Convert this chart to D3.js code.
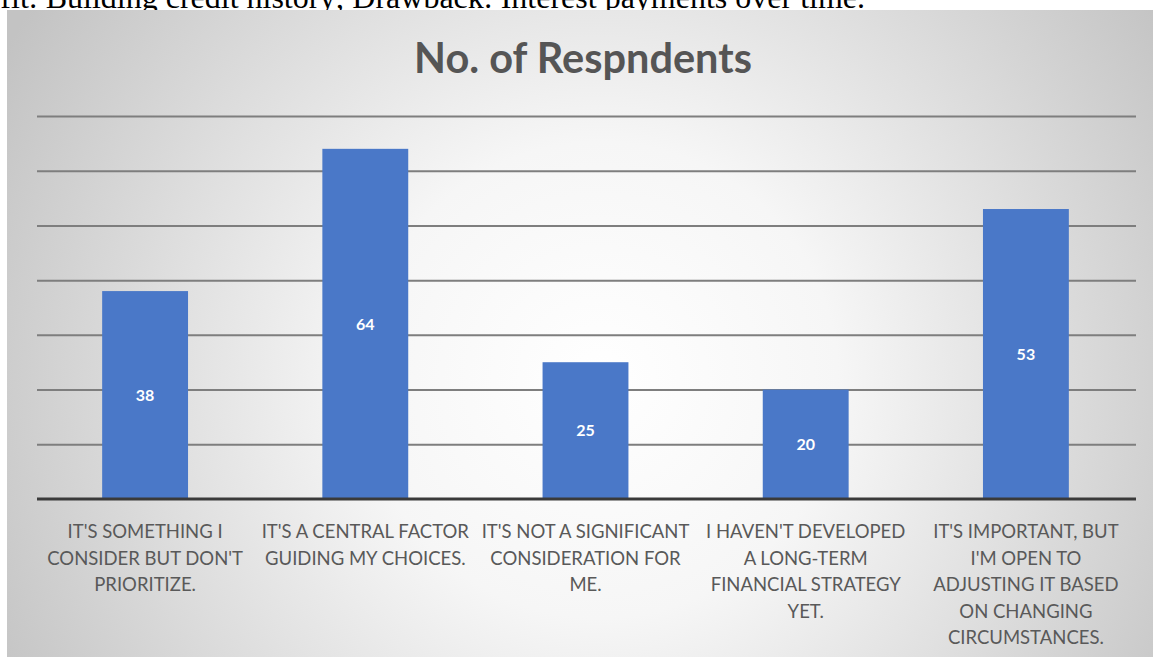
<!DOCTYPE html>
<html>
<head>
<meta charset="utf-8">
<script src="https://cdn.jsdelivr.net/npm/d3@7"></script>
<style>
  html, body { margin: 0; padding: 0; background: #fff; overflow: hidden; }
</style>
</head>
<body>
<div id="chart"></div>
<script>
// data
var categories = [
  "IT'S SOMETHING I\nCONSIDER BUT DON'T\nPRIORITIZE.",
  "IT'S A CENTRAL FACTOR\nGUIDING MY CHOICES.",
  "IT'S NOT A SIGNIFICANT\nCONSIDERATION FOR\nME.",
  "I HAVEN'T DEVELOPED\nA LONG-TERM\nFINANCIAL STRATEGY\nYET.",
  "IT'S IMPORTANT, BUT\nI'M OPEN TO\nADJUSTING IT BASED\nON CHANGING\nCIRCUMSTANCES."
];
var respondents = [38, 64, 25, 20, 53];
var gridTicks = [10, 20, 30, 40, 50, 60, 70];
var chartTitle = "No. of Respndents";
var pageText = "Benefit: Building credit history; Drawback: Interest payments over time.";

var W = 1159, H = 659;

var svg = d3.select("#chart").append("svg")
  .attr("width", W)
  .attr("height", H);

// background gradient of the chart panel
var defs = svg.append("defs");
var grad = defs.append("radialGradient")
  .attr("id", "bg")
  .attr("gradientUnits", "userSpaceOnUse")
  .attr("cx", 600).attr("cy", 380).attr("r", 680);
grad.append("stop").attr("offset", "0").attr("stop-color", "#ffffff");
grad.append("stop").attr("offset", "0.35").attr("stop-color", "#f6f6f6");
grad.append("stop").attr("offset", "1").attr("stop-color", "#c3c3c3");

// line of the document above the chart, cut off at the top
svg.append("text")
  .attr("x", 865).attr("y", 8)
  .attr("text-anchor", "end")
  .style("font-family", "'Liberation Serif', 'Times New Roman', serif")
  .style("font-size", "32px")
  .style("fill", "#000")
  .text(pageText);

svg.append("rect")
  .attr("x", 7).attr("y", 10)
  .attr("width", 1146).attr("height", 647)
  .attr("fill", "url(#bg)");

// scales
var x = d3.scaleBand()
  .domain(categories)
  .range([35, 1136])
  .paddingInner(0.61)
  .paddingOuter(0.305);

var y = d3.scaleLinear()
  .domain([0, 70])
  .range([499, 116]);

// grid lines
var grid = d3.axisLeft(y)
  .tickValues(gridTicks)
  .tickSize(-(1136 - 37))
  .tickFormat("");
var gG = svg.append("g")
  .attr("transform", "translate(37,0)")
  .call(grid);
gG.select(".domain").remove();
gG.selectAll(".tick line")
  .attr("stroke", "#7e7e7e")
  .attr("stroke-width", 2);

// bars
svg.append("g").selectAll("rect")
  .data(respondents)
  .enter().append("rect")
  .attr("x", function(d, i){ return x(categories[i]); })
  .attr("y", function(d){ return y(d); })
  .attr("width", x.bandwidth())
  .attr("height", function(d){ return y(0) - y(d); })
  .attr("fill", "#4a78c8");

// value labels in the middle of the bars
svg.append("g").selectAll("text")
  .data(respondents)
  .enter().append("text")
  .attr("x", function(d, i){ return x(categories[i]) + x.bandwidth() / 2; })
  .attr("y", function(d){ return (y(d) + y(0)) / 2; })
  .attr("dy", "0.35em")
  .attr("text-anchor", "middle")
  .style("font-family", "Lato, 'Open Sans', sans-serif")
  .style("font-weight", "bold")
  .style("font-size", "16px")
  .style("fill", "#ffffff")
  .text(function(d){ return d; });

// category axis
var xAxis = d3.axisBottom(x).tickSize(0).tickFormat("");
var xG = svg.append("g")
  .attr("transform", "translate(0," + y(0) + ")")
  .call(xAxis);
xG.select(".domain")
  .attr("d", "M37,0H1136")
  .attr("stroke", "#3a3a3a")
  .attr("stroke-width", 3);

xG.selectAll(".tick").each(function(d){
  var lines = d.split("\n");
  var t = d3.select(this).append("text")
    .attr("text-anchor", "middle")
    .style("font-family", "Lato, 'Open Sans', sans-serif")
    .style("font-size", "18.5px")
    .style("fill", "#595959");
  lines.forEach(function(l, k){
    t.append("tspan")
      .attr("x", 0)
      .attr("y", 39 + k * 26.6)
      .text(l);
  });
});

// title
svg.append("text")
  .attr("x", 583).attr("y", 73)
  .attr("text-anchor", "middle")
  .style("font-family", "Lato, 'Open Sans', sans-serif")
  .style("font-weight", "bold")
  .style("font-size", "41.5px")
  .style("fill", "#555555")
  .text(chartTitle);
</script>
</body>
</html>
